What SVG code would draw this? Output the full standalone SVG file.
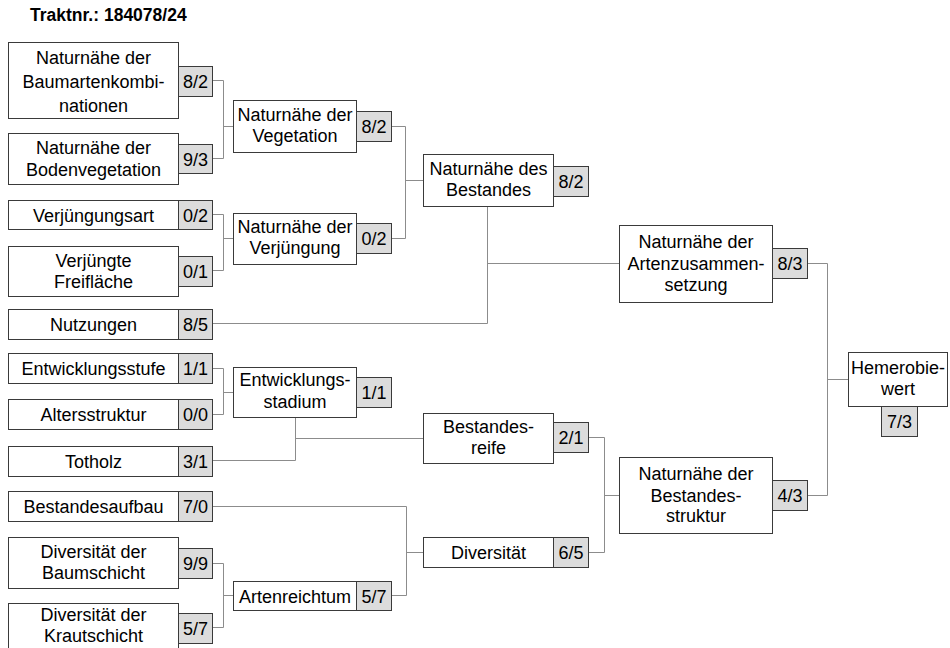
<svg xmlns="http://www.w3.org/2000/svg" width="950" height="648" viewBox="0 0 950 648">
<style>
.b{fill:#fff;stroke:#3a3a3a;stroke-width:1}
.s{fill:#dcdcdc;stroke:#3a3a3a;stroke-width:1}
text{font-family:"Liberation Sans",Arial,sans-serif;font-size:18px;fill:#000;text-anchor:middle}
.title{font-weight:bold;font-size:17.5px;text-anchor:start}
.c path{fill:none;stroke:#8c8c8c;stroke-width:1}
</style>
<rect width="950" height="648" fill="#fff"/>
<text class="title" x="30" y="20.5">Traktnr.: 184078/24</text>
<g class="c" id="connectors">
<path d="M212.5 80.5H223.5V158.5H212.5M223.5 126.5H233.5"/>
<path d="M212.5 214.5H223.5V270.5H212.5M223.5 238.5H233.5"/>
<path d="M212.5 368.5H223.5V414.5H212.5M223.5 392.5H233.5"/>
<path d="M212.5 563.5H223.5V627.5H212.5M223.5 595.5H233.5"/>
<path d="M391.5 126.5H405.5V238.5H391.5M405.5 180.5H423.5"/>
<path d="M212.5 506.5H406.5V595.5H391.5M406.5 552.5H423.5"/>
<path d="M295.5 417.5V460.5H212.5M295.5 438.5H423.5"/>
<path d="M487.5 206.5V323.5H212.5M487.5 263.5H619.5"/>
<path d="M588.5 437.5H604.5V552.5H588.5M604.5 495.5H619.5"/>
<path d="M807.5 263.5H827.5V495.5H807.5M827.5 379.5H848.5"/>
</g>
<g id="n_baumarten"><rect class="b" x="8.5" y="42.5" width="170" height="76"/><rect class="s" x="178.5" y="66.5" width="34" height="30"/>
<text x="93.5" y="63.5">Naturnähe der</text><text x="93.5" y="87.5">Baumartenkombi-</text><text x="93.5" y="111.5">nationen</text><text x="195.5" y="88">8/2</text></g>
<g id="n_boden"><rect class="b" x="8.5" y="133.5" width="170" height="51"/><rect class="s" x="178.5" y="144.5" width="34" height="29"/>
<text x="93.5" y="154">Naturnähe der</text><text x="93.5" y="175.5">Bodenvegetation</text><text x="195.5" y="165.5">9/3</text></g>
<g id="n_verjart"><rect class="b" x="8.5" y="200.5" width="170" height="29"/><rect class="s" x="178.5" y="200.5" width="34" height="29"/>
<text x="93.5" y="221.5">Verjüngungsart</text><text x="195.5" y="221.5">0/2</text></g>
<g id="n_freifl"><rect class="b" x="8.5" y="246.5" width="170" height="50"/><rect class="s" x="178.5" y="256.5" width="34" height="30"/>
<text x="93.5" y="266.5">Verjüngte</text><text x="93.5" y="287.5">Freifläche</text><text x="195.5" y="278">0/1</text></g>
<g id="n_nutz"><rect class="b" x="8.5" y="309.5" width="170" height="30"/><rect class="s" x="178.5" y="309.5" width="34" height="30"/>
<text x="93.5" y="331">Nutzungen</text><text x="195.5" y="331">8/5</text></g>
<g id="n_entwstufe"><rect class="b" x="8.5" y="353.5" width="170" height="30"/><rect class="s" x="178.5" y="353.5" width="34" height="30"/>
<text x="93.5" y="375">Entwicklungsstufe</text><text x="195.5" y="375">1/1</text></g>
<g id="n_alter"><rect class="b" x="8.5" y="399.5" width="170" height="30"/><rect class="s" x="178.5" y="399.5" width="34" height="30"/>
<text x="93.5" y="421">Altersstruktur</text><text x="195.5" y="421">0/0</text></g>
<g id="n_totholz"><rect class="b" x="8.5" y="446.5" width="170" height="30"/><rect class="s" x="178.5" y="446.5" width="34" height="30"/>
<text x="93.5" y="468">Totholz</text><text x="195.5" y="468">3/1</text></g>
<g id="n_aufbau"><rect class="b" x="8.5" y="491.5" width="170" height="30"/><rect class="s" x="178.5" y="491.5" width="34" height="30"/>
<text x="93.5" y="513">Bestandesaufbau</text><text x="195.5" y="513">7/0</text></g>
<g id="n_baumsch"><rect class="b" x="8.5" y="537.5" width="170" height="51"/><rect class="s" x="178.5" y="548.5" width="34" height="30"/>
<text x="93.5" y="558">Diversität der</text><text x="93.5" y="579">Baumschicht</text><text x="195.5" y="570">9/9</text></g>
<g id="n_krautsch"><rect class="b" x="8.5" y="603.5" width="170" height="51"/><rect class="s" x="178.5" y="613.5" width="34" height="30"/>
<text x="93.5" y="621">Diversität der</text><text x="93.5" y="642">Krautschicht</text><text x="195.5" y="635">5/7</text></g>
<g id="n_veg"><rect class="b" x="233.5" y="100.5" width="123" height="52"/><rect class="s" x="356.5" y="111.5" width="35" height="30"/>
<text x="295" y="121">Naturnähe der</text><text x="295" y="142">Vegetation</text><text x="374" y="133">8/2</text></g>
<g id="n_verj"><rect class="b" x="233.5" y="213.5" width="123" height="51"/><rect class="s" x="356.5" y="223.5" width="35" height="30"/>
<text x="295" y="233">Naturnähe der</text><text x="295" y="254">Verjüngung</text><text x="374" y="245">0/2</text></g>
<g id="n_entwstad"><rect class="b" x="233.5" y="367.5" width="123" height="50"/><rect class="s" x="356.5" y="377.5" width="35" height="30"/>
<text x="295" y="386">Entwicklungs-</text><text x="295" y="408">stadium</text><text x="374" y="399">1/1</text></g>
<g id="n_artenr"><rect class="b" x="233.5" y="581.5" width="123" height="29"/><rect class="s" x="356.5" y="581.5" width="35" height="29"/>
<text x="295" y="602.5">Artenreichtum</text><text x="374" y="602.5">5/7</text></g>
<g id="n_bestand"><rect class="b" x="423.5" y="154.5" width="130" height="52"/><rect class="s" x="553.5" y="166.5" width="35" height="30"/>
<text x="488.5" y="175">Naturnähe des</text><text x="488.5" y="196">Bestandes</text><text x="571" y="188">8/2</text></g>
<g id="n_reife"><rect class="b" x="423.5" y="413.5" width="130" height="50"/><rect class="s" x="553.5" y="422.5" width="35" height="30"/>
<text x="488.5" y="433">Bestandes-</text><text x="488.5" y="454">reife</text><text x="571" y="444">2/1</text></g>
<g id="n_divers"><rect class="b" x="423.5" y="537.5" width="130" height="30"/><rect class="s" x="553.5" y="537.5" width="35" height="30"/>
<text x="488.5" y="559">Diversität</text><text x="571" y="559">6/5</text></g>
<g id="n_artenzus"><rect class="b" x="619.5" y="225.5" width="153" height="77"/><rect class="s" x="772.5" y="248.5" width="35" height="30"/>
<text x="696" y="247.5">Naturnähe der</text><text x="696" y="269.5">Artenzusammen-</text><text x="696" y="291">setzung</text><text x="790" y="270">8/3</text></g>
<g id="n_bstruktur"><rect class="b" x="619.5" y="457.5" width="153" height="76"/><rect class="s" x="772.5" y="480.5" width="35" height="30"/>
<text x="696" y="480">Naturnähe der</text><text x="696" y="501.5">Bestandes-</text><text x="696" y="522">struktur</text><text x="790" y="502">4/3</text></g>
<g id="n_hemerobie"><rect class="b" x="848.5" y="352.5" width="99" height="54"/><rect class="s" x="881.5" y="406.5" width="36" height="30"/>
<text x="898" y="373.5">Hemerobie-</text><text x="898" y="395">wert</text><text x="899.5" y="428">7/3</text></g>
</svg>
